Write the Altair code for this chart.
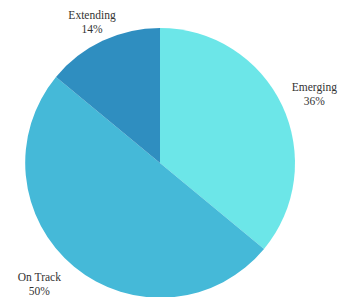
import altair as alt
import pandas as pd
import math

categories = ["Emerging", "On Track", "Extending"]
values = [36, 50, 14]
colors = ["#6ce6e8", "#45b9d8", "#2f8ec0"]

df = pd.DataFrame({
    "category": categories,
    "value": values,
    "order": list(range(len(categories))),
})
df["label"] = [f"{c}\n{v}%" for c, v in zip(categories, values)]

base = alt.Chart(df).encode(
    x=alt.value(152),
    y=alt.value(155),
)

arcs = base.mark_arc(outerRadius=135).encode(
    theta=alt.Theta("value:Q", stack=True),
    order=alt.Order("order:Q"),
    color=alt.Color("category:N", scale=alt.Scale(domain=categories, range=colors), legend=None)
)

label_style = {"Emerging": (175, -4, 0), "On Track": (172, -11, -18), "Extending": (155, -2, -7)}

layers = [arcs]
for cat, (r, dx, dy) in label_style.items():
    layers.append(
        base.transform_window(
            cum="sum(value)", sort=[alt.SortField("order")]
        ).transform_calculate(
            mid="datum.cum - datum.value / 2"
        ).transform_filter(
            alt.datum.category == cat
        ).mark_text(
            radius=r, dx=dx, dy=dy, font="Liberation Serif", fontSize=11.5, color="#333333",
            lineBreak="\n", baseline="middle", align="center", lineHeight=14
        ).encode(
            theta=alt.Theta("mid:Q", scale=alt.Scale(domain=[0, sum(values)], range=[0, 2 * math.pi])),
            text="label:N",
        )
    )

chart = alt.layer(*layers).resolve_scale(theta="independent").properties(
    width=331, height=310, autosize="none", padding=0
).configure_view(stroke=None)

chart.save("out.html", embed_options={"renderer": "svg", "actions": False})
